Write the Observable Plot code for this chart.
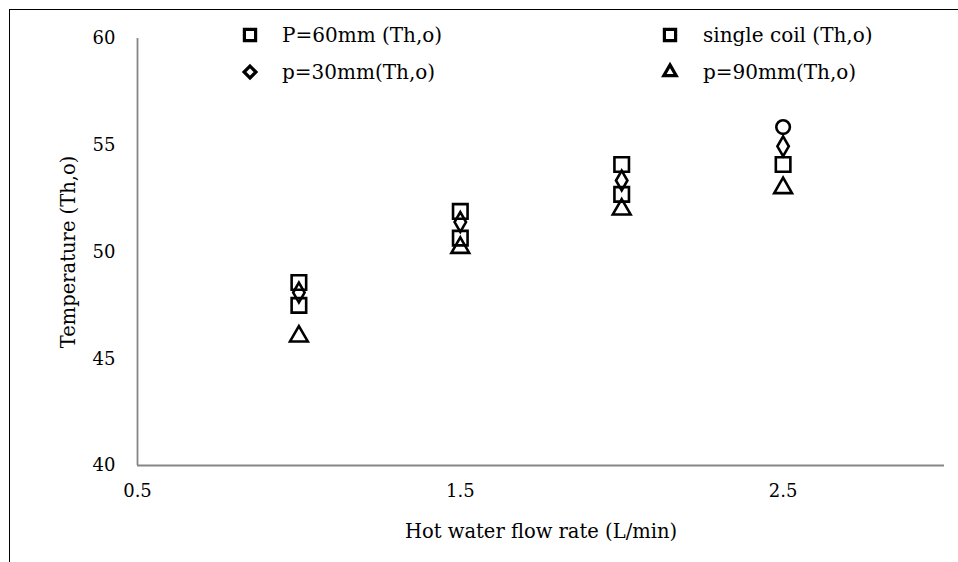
<!DOCTYPE html>
<html><head><meta charset="utf-8">
<script src="https://cdn.jsdelivr.net/npm/d3@7"></script>
<script src="https://cdn.jsdelivr.net/npm/@observablehq/plot@0.6"></script>
<style>
body{margin:0;background:#fff;}
#wrap{position:relative;width:958px;height:562px;overflow:hidden;font-family:"DejaVu Serif",serif;background:#fff;}
#border{position:absolute;left:9px;top:9px;width:2000px;height:2000px;border-left:1.6px solid #000;border-top:1.6px solid #000;}
#chart{position:absolute;left:0;top:0;}
.leg{position:absolute;font-size:20px;color:#000;white-space:nowrap;line-height:1;}
.leg svg{position:absolute;overflow:visible;}
</style></head><body><div id="wrap"><div id="border"></div><div id="chart"></div></div>
<script>
const flowRates = [1.0, 1.5, 2.0, 2.5];
const p60 = [48.57, 51.9, 54.1, null];
const singleCoil = [47.5, 50.65, 52.7, 54.1];
const p30 = [48.1, 51.4, 53.35, 54.95];
const p90 = [46.05, 50.2, 52.0, 53.0];
const extraPoint = [null, null, null, 55.85];
const seriesNames = ["P=60mm (Th,o)", "single coil (Th,o)", "p=30mm(Th,o)", "p=90mm(Th,o)", ""];
const xTicks = [0.5, 1.5, 2.5];
const yTicks = [40, 45, 50, 55, 60];
const xTitle = "Hot water flow rate (L/min)";
const yTitle = "Temperature (Th,o)";

const seriesValues = [p60, singleCoil, p30, p90, extraPoint];
const symbols = ["square", "square", "diamond", "triangle", "circle"];
const radii = [8.2, 8.2, 6, 6.6, 6.8];

const rows = [];
seriesValues.forEach((vals, s) => {
  vals.forEach((v, i) => { if (v != null) rows.push({series: s, x: flowRates[i], y: v}); });
});

const dotMarks = seriesValues.map((_, s) =>
  Plot.dot(rows.filter(d => d.series === s), {
    x: "x", y: "y", symbol: () => symbols[s], r: radii[s],
    stroke: "#000", strokeWidth: 2.6, fill: "none"
  })
);

const chart = Plot.plot({
  width: 958, height: 562,
  marginLeft: 137, marginRight: 14, marginTop: 38, marginBottom: 97,
  style: {background: "transparent", fontFamily: "DejaVu Serif, serif", color: "#000"},
  x: {domain: [0.5, 3.0]},
  y: {domain: [40, 60]},
  symbol: {type: "identity"},
  marks: [
    Plot.axisX(xTicks, {tickSize: 0, tickPadding: 19, fontSize: 18, tickFormat: d3.format(".1f"), label: null}),
    Plot.axisY(yTicks, {tickSize: 0, tickPadding: 22, fontSize: 18, label: null}),
    Plot.ruleX([0.5], {stroke: "#868686", strokeWidth: 1.8}),
    Plot.ruleY([40], {stroke: "#868686", strokeWidth: 1.8}),
    Plot.text([yTitle], {frameAnchor: "left", textAnchor: "middle", dx: -69, rotate: -90, fontSize: 19.5, fill: "#000"}),
    Plot.text([xTitle], {frameAnchor: "bottom", textAnchor: "middle", dy: 72, fontSize: 19.5, fill: "#000"}),
    ...dotMarks
  ]
});
document.getElementById("chart").appendChild(chart);

// legend
const legendPos = [[250, 35], [670, 35], [250, 72], [670, 72]];
const legendSeries = [0, 1, 2, 3];
const legSym = {square: d3.symbolSquare2, diamond: d3.symbolDiamond2, triangle: d3.symbolTriangle2};
const legSize = {square: 160, diamond: 90, triangle: 110};
legendSeries.forEach((s, k) => {
  const [cx, cy] = legendPos[k];
  const div = document.createElement("div");
  div.className = "leg";
  div.style.left = (cx - 10) + "px";
  div.style.top = (cy - 10) + "px";
  const sym = symbols[s];
  const path = d3.symbol(legSym[sym], legSize[sym])();
  div.innerHTML = `<svg width="20" height="20" style="left:0;top:0"><path transform="translate(10,10)" d="${path}" fill="none" stroke="#000" stroke-width="3.2"/></svg>` +
    `<span style="position:absolute;left:${s % 2 === 0 ? 42 : 43}px;top:0px">${seriesNames[s]}</span>`;
  document.getElementById("wrap").appendChild(div);
});
</script></body></html>
